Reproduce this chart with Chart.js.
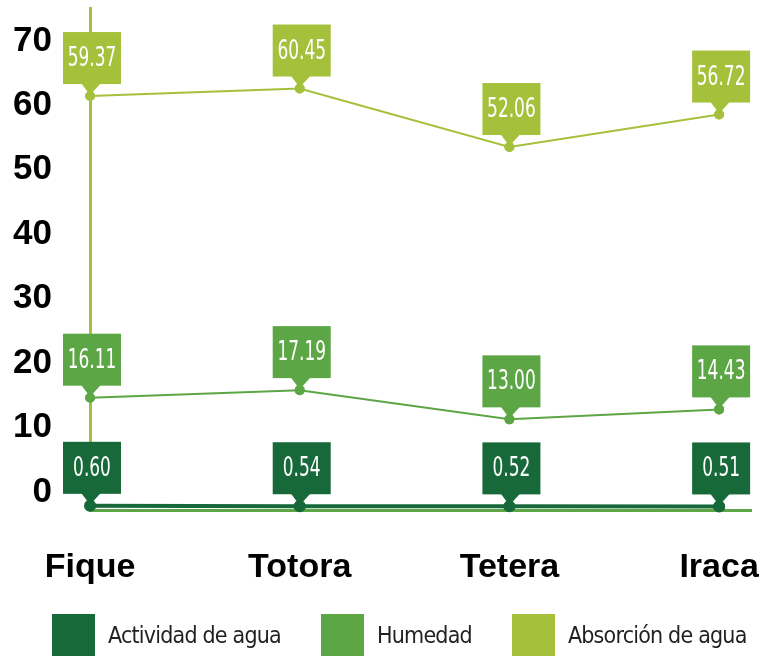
<!DOCTYPE html>
<html>
<head>
<meta charset="utf-8">
<script src="https://cdn.jsdelivr.net/npm/chart.js@4.4.0/dist/chart.umd.min.js"></script>
<style>
  html, body { margin: 0; padding: 0; background: #fff; overflow: hidden; }
  #wrap { position: relative; width: 759px; height: 657px; }
  #legend {
    position: absolute; left: 52px; top: 614px;
    display: flex; align-items: center; white-space: nowrap;
    font-family: 'DejaVu Sans Condensed', sans-serif; font-size: 23px;
    letter-spacing: -0.8px; color: #231f20;
  }
  #legend .item { display: flex; align-items: center; flex-shrink: 0; margin-right: 40px; }
  #legend .box { width: 43px; height: 42px; flex-shrink: 0; margin-right: 13px; }
</style>
</head>
<body>
<div id="wrap">
  <canvas id="myChart"></canvas>
  <div id="legend"></div>
</div>
<script>
// Data
const categories = ["Fique", "Totora", "Tetera", "Iraca"];
const actividadAgua = [0.60, 0.54, 0.52, 0.51];
const humedad = [16.11, 17.19, 13.00, 14.43];
const absorcionAgua = [59.37, 60.45, 52.06, 56.72];
const yTicks = [0, 10, 20, 30, 40, 50, 60, 70];

const darkGreen = "#17693a";
const midGreen = "#5ca645";
const limeGreen = "#a5c13b";
const narrow = "'DejaVu Sans Condensed', sans-serif";
const heavy = "'Liberation Sans', Arial, sans-serif";

// turn a series into {x, y} points for the linear x axis
function toPoints(values) {
  return values.map((v, i) => ({ x: i, y: v }));
}

// Draws the square value boxes with a little pointer over each point
const calloutPlugin = {
  id: "callouts",
  afterDatasetsDraw(chart) {
    const c = chart.ctx;
    chart.data.datasets.forEach((ds, i) => {
      const meta = chart.getDatasetMeta(i);
      meta.data.forEach((pt, j) => {
        const x = pt.x, y = pt.y;
        const w = 58, h = 52, gap = 12;
        const bx = x + 2 - w / 2;
        const by = y - gap - h;
        c.save();
        c.fillStyle = ds.backgroundColor;
        c.fillRect(bx, by, w, h);
        c.beginPath();
        c.moveTo(x - 9, by + h - 1);
        c.lineTo(x + 11, by + h - 1);
        c.lineTo(x, y - 1);
        c.closePath();
        c.fill();
        // squeeze the text sideways, the original font is very narrow
        c.translate(bx + w / 2, by + h / 2 + 1);
        c.scale(0.7, 1);
        c.fillStyle = "#fff";
        c.font = "27px " + narrow;
        c.textAlign = "center";
        c.textBaseline = "middle";
        c.fillText(ds.data[j].y.toFixed(2), 0, 0);
        c.restore();
      });
      // put the dots back on top of the pointers
      meta.data.forEach((pt) => pt.draw(c, chart.chartArea));
    });
  },
};

const ctx = document.getElementById("myChart");

const chart = new Chart(ctx, {
  type: "line",
  data: {
    datasets: [
      {
        label: "Actividad de agua",
        data: toPoints(actividadAgua),
        backgroundColor: darkGreen,
        borderColor: darkGreen,
        borderWidth: 4,
      },
      {
        label: "Humedad",
        data: toPoints(humedad),
        backgroundColor: midGreen,
        borderColor: midGreen,
        borderWidth: 2,
      },
      {
        label: "Absorción de agua",
        data: toPoints(absorcionAgua),
        backgroundColor: limeGreen,
        borderColor: limeGreen,
        borderWidth: 2,
      },
    ],
  },
  options: {
    responsive: true,
    maintainAspectRatio: false,
    animation: false,
    elements: {
      point: {
        radius: 4,
        backgroundColor: limeGreen,
        borderWidth: 0,
      },
      line: { tension: 0 },
    },
    layout: { padding: { top: 8, left: 0, right: 0, bottom: 62 } },
    plugins: {
      tooltip: { enabled: false },
      legend: { display: false },
    },
    scales: {
      x: {
        type: "linear",
        min: 0,
        max: 3.152,
        afterBuildTicks: (axis) => {
          axis.ticks = categories.map((_, i) => ({ value: i }));
        },
        afterFit: (axis) => {
          axis.height = 85;
          axis.paddingLeft = 0;
          axis.paddingRight = 0;
        },
        ticks: {
          callback: (v) => categories[v],
          color: "#000",
          font: { family: heavy, size: 34, weight: "bold" },
          padding: 37,
          maxRotation: 0,
          autoSkip: false,
        },
        grid: { display: false, drawTicks: false },
        border: { display: true, color: midGreen, width: 3 },
      },
      y: {
        display: false,
        min: 0,
        max: 72,
      },
      yLabels: {
        type: "linear",
        position: "left",
        min: -2.79,
        max: 75.1,
        afterBuildTicks: (axis) => {
          axis.ticks = yTicks.map((v) => ({ value: v }));
        },
        afterFit: (axis) => {
          axis.width = 90;
          axis.paddingTop = 0;
          axis.paddingBottom = 0;
        },
        ticks: {
          color: "#000",
          font: { family: heavy, size: 35, weight: "bold" },
          padding: 38,
        },
        grid: { display: false, drawTicks: false },
        border: { display: true, color: limeGreen, width: 3 },
      },
    },
  },
  plugins: [calloutPlugin],
});

// HTML legend built from the datasets
const legendEl = document.getElementById("legend");
chart.data.datasets.forEach((ds) => {
  const item = document.createElement("div");
  item.className = "item";
  const box = document.createElement("span");
  box.className = "box";
  box.style.background = ds.backgroundColor;
  const text = document.createElement("span");
  text.textContent = ds.label;
  item.appendChild(box);
  item.appendChild(text);
  legendEl.appendChild(item);
});
</script>
</body>
</html>
